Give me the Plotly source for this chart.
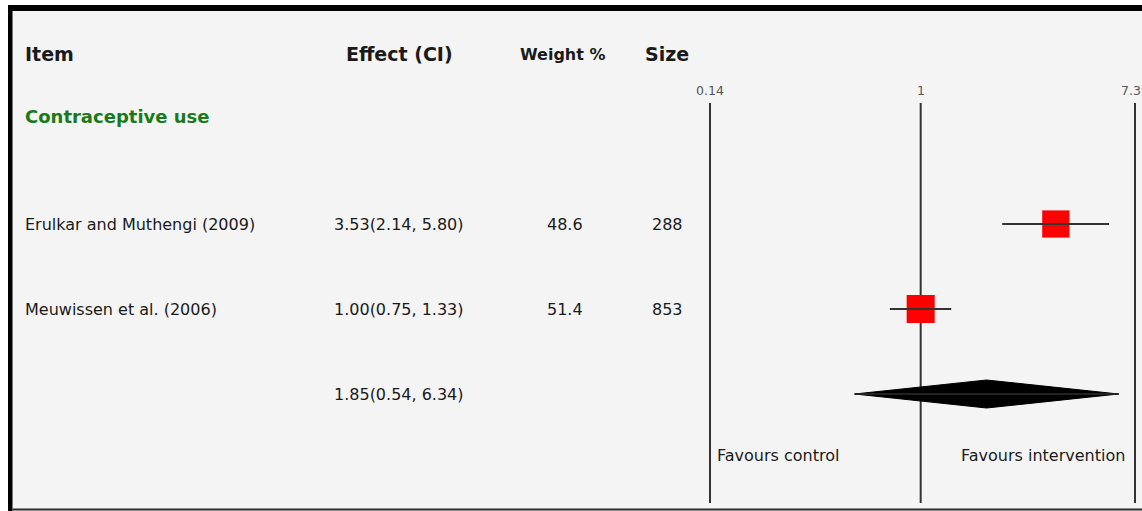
import math
import plotly.graph_objects as go

# ---------------- data ----------------
group_name = "Contraceptive use"
studies = ["Erulkar and Muthengi (2009)", "Meuwissen et al. (2006)"]
effects = [3.53, 1.00]
ci_low = [2.14, 0.75]
ci_high = [5.80, 1.33]
weights = [48.6, 51.4]
sizes = [288, 853]
pooled_effect = 1.85
pooled_low = 0.54
pooled_high = 6.34
ref_ticks = [0.14, 1, 7.39]
tick_labels = ["0.14", "1", "7.39"]
headers = ["Item", "Effect (CI)", "Weight %", "Size"]
favours_labels = ["Favours control", "Favours intervention"]

# ---------------- layout constants ----------------
W, H = 1142, 511
PX_LO, PX_HI = 710, 1135          # pixel positions of the axis ends (0.14 / 7.39)
scale = (PX_HI - PX_LO) / (math.log10(ref_ticks[-1]) - math.log10(ref_ticks[0]))
x_range = [math.log10(ref_ticks[0]) - PX_LO / scale,
           math.log10(ref_ticks[-1]) + (W - PX_HI) / scale]

ROW_PX = 85.0
FIRST_ROW_PX = 224.0
y_top = -FIRST_ROW_PX / ROW_PX
y_bot = (H - FIRST_ROW_PX) / ROW_PX
def row_of(px):
    return (px - FIRST_ROW_PX) / ROW_PX

study_rows = list(range(len(studies)))
pooled_row = len(studies)
header_row = row_of(54)
group_row = row_of(116)
tick_row = row_of(90)
favours_row = row_of(455)
line_top = row_of(103)
line_bot = row_of(503)

FONT = "DejaVu Sans"
TXT = "#1a1a1a"
LINE = "#333333"
BODY = 16
HEAD = 19

fig = go.Figure()

# reference vertical lines
for t in ref_ticks:
    fig.add_trace(go.Scatter(x=[t, t], y=[line_top, line_bot], mode="lines",
                             line=dict(color=LINE, width=2), hoverinfo="skip",
                             showlegend=False))

# study squares
maxw = max(weights)
fig.add_trace(go.Scatter(
    x=effects, y=study_rows, mode="markers",
    marker=dict(symbol="square", color="#ff0000", opacity=1,
                size=[28 * math.sqrt(w / maxw) for w in weights],
                line=dict(width=0)),
    opacity=1, showlegend=False, hoverinfo="skip"))

# CI whiskers
for r, lo, hi in zip(study_rows, ci_low, ci_high):
    fig.add_trace(go.Scatter(x=[lo, hi], y=[r, r], mode="lines",
                             line=dict(color=LINE, width=2), hoverinfo="skip",
                             showlegend=False))

# pooled diamond
hh = 14 / ROW_PX
fig.add_trace(go.Scatter(
    x=[pooled_low, pooled_effect, pooled_high, pooled_effect, pooled_low],
    y=[pooled_row, pooled_row - hh, pooled_row, pooled_row + hh, pooled_row],
    mode="lines", fill="toself", fillcolor="#000000",
    line=dict(color="#000000", width=1), hoverinfo="skip", showlegend=False))
fig.add_trace(go.Scatter(x=[pooled_low, pooled_high], y=[pooled_row, pooled_row],
                         mode="lines", line=dict(color="#222222", width=2),
                         hoverinfo="skip", showlegend=False))

ann = []
def px(x):
    return x / W

# headers
ann.append(dict(x=px(23), y=header_row, text="<b>" + headers[0] + "</b>", xanchor="left",
                font=dict(size=HEAD, color=TXT, family=FONT)))
ann.append(dict(x=px(399), y=header_row, text="<b>" + headers[1] + "</b>", xanchor="center",
                font=dict(size=HEAD, color=TXT, family=FONT)))
ann.append(dict(x=px(563), y=header_row, text="<b>" + headers[2] + "</b>", xanchor="center",
                font=dict(size=16, color=TXT, family=FONT)))
ann.append(dict(x=px(667), y=header_row, text="<b>" + headers[3] + "</b>", xanchor="center",
                font=dict(size=HEAD, color=TXT, family=FONT)))
# group
ann.append(dict(x=px(23), y=group_row, text="<b>" + group_name + "</b>", xanchor="left",
                font=dict(size=18, color="#1a7a1a", family=FONT)))
# rows
for r, s, e, lo, hi, w, n in zip(study_rows, studies, effects, ci_low, ci_high, weights, sizes):
    ann.append(dict(x=px(23), y=r, text=s, xanchor="left",
                    font=dict(size=BODY, color=TXT, family=FONT)))
    ann.append(dict(x=px(399), y=r, text=f"{e:.2f}({lo:.2f}, {hi:.2f})", xanchor="center",
                    font=dict(size=BODY, color=TXT, family=FONT)))
    ann.append(dict(x=px(565), y=r, text=f"{w:.1f}", xanchor="center",
                    font=dict(size=BODY, color=TXT, family=FONT)))
    ann.append(dict(x=px(667), y=r, text=str(n), xanchor="center",
                    font=dict(size=BODY, color=TXT, family=FONT)))
ann.append(dict(x=px(399), y=pooled_row,
                text=f"{pooled_effect:.2f}({pooled_low:.2f}, {pooled_high:.2f})",
                xanchor="center", font=dict(size=BODY, color=TXT, family=FONT)))
# tick labels
for t, lab in zip(ref_ticks, tick_labels):
    ann.append(dict(x=math.log10(t), xref="x", y=tick_row, text=lab, xanchor="center",
                    font=dict(size=12.5, color="#555555", family=FONT)))
# favours
ann.append(dict(x=px(715), y=favours_row, text=favours_labels[0], xanchor="left",
                font=dict(size=BODY, color=TXT, family=FONT)))
ann.append(dict(x=px(1127), y=favours_row, text=favours_labels[1], xanchor="right",
                font=dict(size=BODY, color=TXT, family=FONT)))

for a in ann:
    a.setdefault("xref", "paper")
    a["yref"] = "y"
    a["showarrow"] = False
    a["yanchor"] = "middle"

def py(p):
    return 1 - p / H

shapes = [
    dict(type="rect", xref="paper", yref="paper", x0=px(8), x1=1, y0=0, y1=py(5),
         fillcolor="#f4f4f4", line=dict(width=0), layer="below"),
    dict(type="rect", xref="paper", yref="paper", x0=px(8), x1=1, y0=py(11), y1=py(5),
         fillcolor="#000000", line=dict(width=0), layer="above"),
    dict(type="rect", xref="paper", yref="paper", x0=px(8), x1=px(12.5), y0=0, y1=py(5),
         fillcolor="#000000", line=dict(width=0), layer="above"),
    dict(type="rect", xref="paper", yref="paper", x0=px(12.5), x1=1, y0=py(510.5), y1=py(508.5),
         fillcolor="#2a2a2a", line=dict(width=0), layer="above"),
]

fig.update_layout(
    width=W, height=H, autosize=False,
    margin=dict(l=0, r=0, t=0, b=0, pad=0),
    paper_bgcolor="#ffffff", plot_bgcolor="rgba(0,0,0,0)",
    xaxis=dict(type="log", range=x_range, visible=False, showgrid=False, zeroline=False,
               fixedrange=True),
    yaxis=dict(range=[y_bot, y_top], visible=False, showgrid=False, zeroline=False,
               fixedrange=True),
    annotations=ann, shapes=shapes, showlegend=False,
)

fig.write_html("out.html", config={"displayModeBar": False},
               post_script="document.body.style.margin='0';document.body.style.overflow='hidden';")
